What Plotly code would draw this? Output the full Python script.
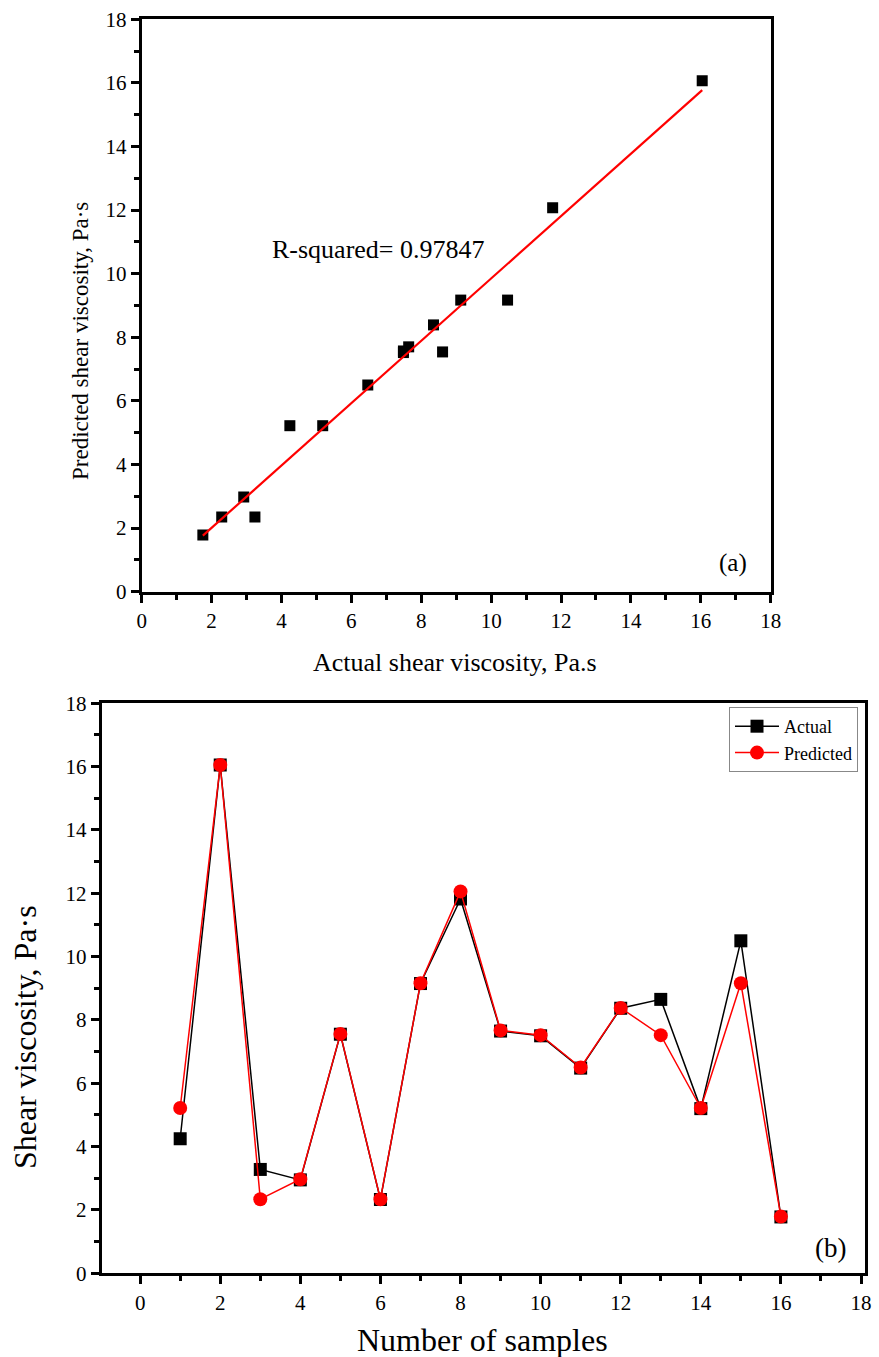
import numpy as np
import plotly.graph_objects as go

samples = list(range(1, 17))
actual = [4.25, 16.05, 3.28, 2.95, 7.55, 2.33, 9.15, 11.82, 7.65, 7.5, 6.48, 8.37, 8.65, 5.2, 10.5, 1.78]
predicted = [5.22, 16.05, 2.34, 2.97, 7.56, 2.34, 9.16, 12.06, 7.67, 7.52, 6.5, 8.38, 7.52, 5.22, 9.16, 1.79]
# scatter (a): actual vs predicted pairs
actual_a = [4.24, 16.04, 3.24, 2.92, 7.49, 2.29, 9.13, 11.76, 7.64, 7.49, 6.47, 8.35, 8.61, 5.18, 10.47, 1.75]
predicted_a = [5.22, 16.07, 2.35, 2.98, 7.57, 2.35, 9.17, 12.07, 7.70, 7.52, 6.50, 8.39, 7.54, 5.22, 9.17, 1.78]
r2_text = "R-squared= 0.97847"

FONT = "Liberation Serif"

slope, intercept = np.polyfit(actual_a, predicted_a, 1)
fit_x = [min(actual_a), max(actual_a)]
fit_y = [slope * v + intercept for v in fit_x]

fig = go.Figure()
fig.add_trace(go.Scatter(x=actual_a, y=predicted_a, mode="markers",
                         marker=dict(symbol="square", size=11, color="black"),
                         xaxis="x", yaxis="y", showlegend=False))
fig.add_trace(go.Scatter(x=fit_x, y=fit_y, mode="lines",
                         line=dict(color="red", width=2.2),
                         xaxis="x", yaxis="y", showlegend=False))
fig.add_trace(go.Scatter(x=samples, y=actual, mode="lines+markers", name="Actual",
                         line=dict(color="black", width=1.5),
                         marker=dict(symbol="square", size=13, color="black"),
                         xaxis="x2", yaxis="y2"))
fig.add_trace(go.Scatter(x=samples, y=predicted, mode="lines+markers", name="Predicted",
                         line=dict(color="red", width=1.5),
                         marker=dict(symbol="circle", size=14, color="red"),
                         xaxis="x2", yaxis="y2"))

def title_ann(text, x, y, size, angle=0):
    return dict(text=text, x=x, y=y, xref="paper", yref="paper", showarrow=False,
                textangle=angle, xanchor="center", yanchor="middle",
                font=dict(family=FONT, size=size, color="black"))

W, H = 879, 1357
fig.update_layout(
    template="none",
    width=W, height=H,
    font=dict(family=FONT, size=21, color="black"),
    margin=dict(l=0, r=0, t=0, b=0),
    plot_bgcolor="white", paper_bgcolor="white",
    xaxis=dict(domain=[141.7 / W, 770.7 / W], range=[0, 18], dtick=2, anchor="y"),
    yaxis=dict(domain=[1 - 591.7 / H, 1 - 19.3 / H], range=[0, 18], dtick=2, anchor="x"),
    xaxis2=dict(domain=[101.7 / W, 865 / W], range=[-0.96, 18.1], dtick=2, tick0=0, anchor="y2"),
    yaxis2=dict(domain=[1 - 1273.3 / H, 1 - 703.3 / H], range=[0, 18], dtick=2, anchor="x2"),
    legend=dict(x=858 / W, y=1 - 707 / H, xanchor="right", yanchor="top",
                bordercolor="#888", borderwidth=1, bgcolor="white",
                font=dict(family=FONT, size=18, color="black"),
                tracegroupgap=0, itemwidth=44),
    annotations=[
        title_ann("Actual shear viscosity, Pa.s", 455 / W, 1 - 662 / H, 26),
        title_ann("Predicted shear viscosity, Pa·s", 80 / W, 1 - 341 / H, 23, -90),
        title_ann("Number of samples", 482 / W, 1 - 1340 / H, 32),
        title_ann("Shear viscosity, Pa·s", 25 / W, 1 - 1037 / H, 32, -90),
        dict(text=r2_text, x=6.77, y=10.75, xref="x", yref="y", showarrow=False,
             font=dict(family=FONT, size=26, color="black"), xanchor="center", yanchor="middle"),
        dict(text="(a)", x=16.92, y=0.9, xref="x", yref="y", showarrow=False,
             font=dict(family=FONT, size=25, color="black")),
        dict(text="(b)", x=17.25, y=0.8, xref="x2", yref="y2", showarrow=False,
             font=dict(family=FONT, size=27, color="black")),
    ],
)
axis_style = dict(showline=True, linecolor="black", linewidth=3, mirror=True,
                  ticks="outside", ticklen=8, tickwidth=2.5, tickcolor="black",
                  showgrid=False, zeroline=False, automargin=False,
                  minor=dict(ticks="outside", ticklen=5, tickwidth=2.5, tickcolor="black", dtick=1),
                  tickfont=dict(family=FONT, size=21, color="black"))
fig.update_xaxes(**axis_style)
fig.update_yaxes(**axis_style)

fig.write_html("out.html")
